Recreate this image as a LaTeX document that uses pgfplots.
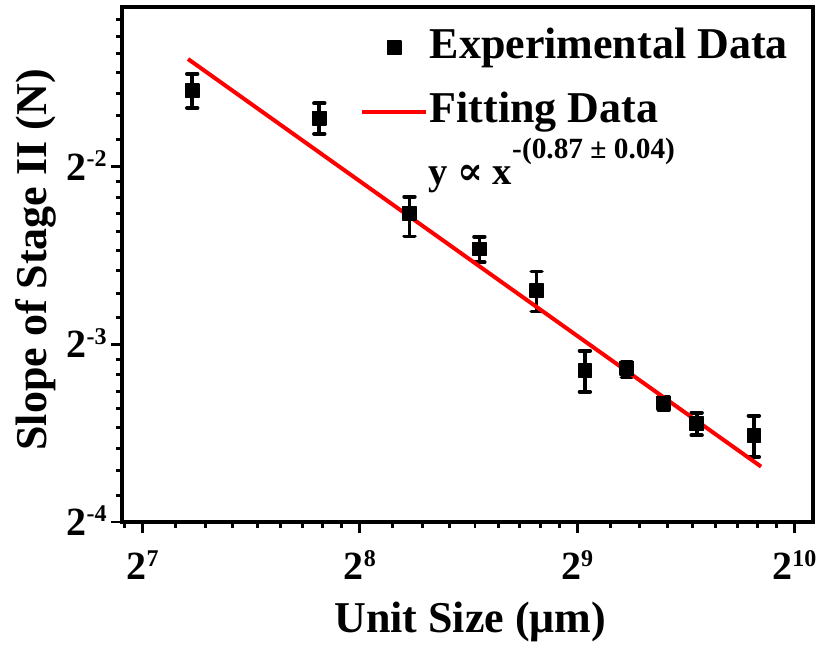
\documentclass[border=0pt]{standalone}
\usepackage{pgfplots}
\pgfplotsset{compat=1.18}
\usepackage{fontspec}
\setmainfont{Liberation Serif}
\newfontfamily\symfont{DejaVu Serif}

% base-2 tick label: big 2 with a raised exponent
\newcommand{\pw}[1]{2\smash{\raisebox{10pt}{\fontsize{18}{18}\selectfont #1}}}

\pgfplotsset{
    marklegend/.style={legend image code/.code={\draw[##1] plot coordinates {(24pt,0pt)};}},
    linelegend/.style={legend image code/.code={\draw[##1] (0pt,0pt) -- (48pt,0pt);}},
}

\pgfplotstableread{
x    y       ep      em
150  0.3366  0.023   0.022
225  0.3024  0.018   0.018
300  0.2086  0.014   0.018
375  0.1814  0.009   0.009
450  0.1542  0.012   0.012
525  0.1129  0.009   0.009
600  0.1139  0.003   0.004
675  0.0995  0.0023  0.0027
750  0.0917  0.004   0.004
900  0.0876  0.007   0.007
}\expdata

\begin{document}
\begin{tikzpicture}
\begin{axis}[
    name=ax,
    scale only axis,
    width=518.25pt, height=386.25pt,
    xmode=log, ymode=log,
    log basis x=2, log basis y=2,
    xmin=119.9, xmax=1087,
    ymin=0.0625, ymax=0.4667,
    xtick={128,256,512,1024},
    xticklabels={\pw{7},\pw{8},\pw{9},\pw{10}},
    ytick={0.0625,0.125,0.25},
    yticklabels={\pw{-4},\pw{-3},\pw{-2}},
    extra x ticks={120.89,142.2,156.4,170.7,184.9,199.1,213.3,227.6,241.8,
                 284.4,312.9,341.3,369.8,398.2,426.7,455.1,483.6,
                 568.9,625.8,682.7,739.6,796.4,853.3,910.2,967.1},
    extra y ticks={0.06944,0.07639,0.08333,0.09028,0.09722,0.10417,0.11111,0.11806,
                 0.13889,0.15278,0.16667,0.18056,0.19444,0.20833,0.22222,0.23611,
                 0.27778,0.30556,0.33333,0.36111,0.38889,0.41667,0.44444},
    extra x tick labels={}, extra y tick labels={},
    extra tick style={major tick length=4.5pt},
    tick align=outside,
    xtick pos=bottom, ytick pos=left,
    major tick length=8pt,
    every tick/.style={black, line width=2.2pt},
    axis line style={line width=2.5pt},
    ticklabel style={font=\fontsize{30}{30}\selectfont\bfseries},
    xticklabel style={yshift=-12pt},
    label style={font=\fontsize{33}{36}\selectfont\bfseries},
    xlabel={Unit Size (μm)},
    xlabel style={at={(rel axis cs:0.504,0)}, anchor=base, yshift=-82.5pt},
    ylabel={Slope of Stage II (N)},
    ylabel style={at={(rel axis cs:-0.125,0.509)}, anchor=center},
    legend style={at={(rel axis cs:0.3445,0.963)}, anchor=north west,
        draw=none, fill=none, inner sep=0pt, row sep=16pt,
        font=\fontsize{33}{36}\selectfont\bfseries,
        nodes={inner ysep=0pt, inner xsep=1pt, text height=24pt, text depth=8pt},
        /tikz/every odd column/.append style={column sep=0pt}},
    legend cell align=left,
]
\addplot[only marks, mark=square*, mark size=5pt, black, marklegend,
    mark options={line width=1pt, line join=round},
    error bars/.cd, y dir=both, y explicit,
    error bar style={line width=2.8pt, black},
    error mark options={rotate=90, mark size=4pt, line width=2.8pt, line cap=round, black}]
    table[x=x, y=y, y error plus=ep, y error minus=em] {\expdata};
\addlegendentry{Experimental Data}

\addplot[red, line width=3pt, linelegend]
    coordinates {(148,0.381) (921,0.0776)};
\addlegendentry{Fitting Data}

\node[anchor=base west, inner sep=0pt, font=\fontsize{29}{34}\selectfont\bfseries]
    at (rel axis cs:0.4428,0.656)
    {y {\symfont\bfseries ∝} x\raisebox{19pt}{\fontsize{22}{22}\selectfont -(0.87 ± 0.04)}};
\end{axis}
\pgfresetboundingbox
\path[use as bounding box] ([shift={(-91.5pt,-96pt)}]ax.south west) rectangle ++(618pt,487.5pt);
\end{tikzpicture}
\end{document}
